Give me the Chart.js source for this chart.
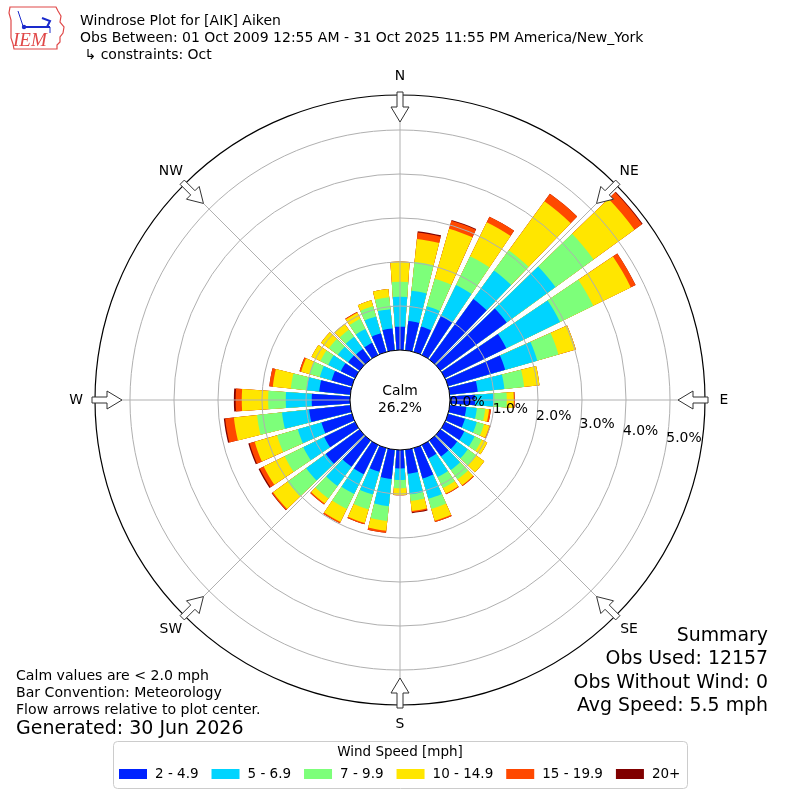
<!DOCTYPE html>
<html>
<head>
<meta charset="utf-8">
<script src="https://cdn.jsdelivr.net/npm/chart.js@4.4.1/dist/chart.umd.min.js"></script>
<style>
  html, body { margin: 0; padding: 0; background: #fff; }
  #wrap { width: 800px; height: 800px; position: relative; }
</style>
</head>
<body>
<div id="wrap"><canvas id="roseChart"></canvas></div>
<script>
  // bar directions, degrees clockwise from north
  var directions = [0, 10, 20, 30, 40, 50, 60, 70, 80, 90, 100, 110,
    120, 130, 140, 150, 160, 170, 180, 190, 200, 210, 220, 230,
    240, 250, 260, 270, 280, 290, 300, 310, 320, 330, 340, 350];

  var speedLabels = ['2 - 4.9', '5 - 6.9', '7 - 9.9', '10 - 14.9', '15 - 19.9', '20+'];
  var speedColors = ['#0022ff', '#00d4ff', '#7dff7a', '#ffe600', '#ff4800', '#800000'];

  // percent of observations in each direction, per speed bin
  var speed2to5 = [0.53, 0.67, 0.60, 0.98, 1.70, 1.86, 1.55, 1.35, 0.64, 0.57, 0.38, 0.40,
    0.49, 0.47, 0.45, 0.34, 0.72, 0.55, 0.42, 0.67, 0.56, 0.74, 0.74, 0.95,
    0.78, 0.72, 0.94, 0.87, 0.71, 0.48, 0.36, 0.32, 0.30, 0.31, 0.44, 0.50];
  var speed5to7 = [0.68, 0.69, 0.48, 0.79, 0.80, 1.37, 1.36, 0.76, 0.61, 0.41, 0.24, 0.28,
    0.26, 0.30, 0.38, 0.47, 0.48, 0.47, 0.26, 0.62, 0.54, 0.50, 0.54, 0.55,
    0.53, 0.56, 0.62, 0.59, 0.29, 0.28, 0.32, 0.29, 0.34, 0.35, 0.40, 0.44];
  var speed7to10 = [0.34, 0.66, 0.65, 0.73, 0.57, 1.07, 0.84, 0.50, 0.45, 0.31, 0.19, 0.17,
    0.18, 0.24, 0.26, 0.28, 0.24, 0.15, 0.19, 0.34, 0.35, 0.38, 0.35, 0.52,
    0.47, 0.49, 0.57, 0.40, 0.36, 0.24, 0.20, 0.25, 0.20, 0.26, 0.24, 0.27];
  var speed10to15 = [0.46, 0.52, 1.18, 0.86, 1.38, 1.15, 0.95, 0.41, 0.35, 0.16, 0.09, 0.13,
    0.14, 0.22, 0.17, 0.14, 0.28, 0.23, 0.15, 0.22, 0.32, 0.33, 0.14, 0.41,
    0.53, 0.53, 0.53, 0.60, 0.41, 0.20, 0.22, 0.22, 0.16, 0.15, 0.14, 0.19];
  var speed15to20 = [0, 0.15, 0.19, 0.14, 0.21, 0.21, 0.12, 0, 0, 0.02, 0.04, 0.02,
    0, 0, 0.02, 0.02, 0.03, 0.03, 0.01, 0.05, 0.03, 0.03, 0.03, 0.03,
    0.10, 0.12, 0.20, 0.14, 0.08, 0.04, 0, 0, 0, 0.02, 0, 0];
  var speed20plus = [0, 0.03, 0.02, 0, 0, 0.02, 0, 0, 0, 0, 0, 0,
    0, 0, 0, 0, 0, 0.02, 0, 0, 0, 0, 0, 0.01,
    0.03, 0.03, 0.03, 0.04, 0, 0, 0, 0, 0, 0, 0, 0];

  var ringTicks = [0, 1, 2, 3, 4, 5];
  var compassLabels = ['N', 'NE', 'E', 'SE', 'S', 'SW', 'W', 'NW'];
  var calmPercent = 26.2;

  var titleLines = ['Windrose Plot for [AIK] Aiken',
    'Obs Between: 01 Oct 2009 12:55 AM - 31 Oct 2025 11:55 PM America/New_York',
    ' \u21b3 constraints: Oct'];
  var noteLines = ['Calm values are < 2.0 mph', 'Bar Convention: Meteorology',
    'Flow arrows relative to plot center.'];
  var generatedText = 'Generated: 30 Jun 2026';
  var summaryLines = ['Summary', 'Obs Used: 12157', 'Obs Without Wind: 0', 'Avg Speed: 5.5 mph'];

  var rMin = -1.136;
  var rMax = 5.795;
  var FONT = '"DejaVu Sans", sans-serif';

  // stack the bins: each dataset holds the running total, drawn smallest on top
  var bins = [speed2to5, speed5to7, speed7to10, speed10to15, speed15to20, speed20plus];
  var labels = [];
  directions.forEach(function (d) { labels.push(d + '\u00b0'); labels.push(''); });
  var running = directions.map(function () { return 0; });
  var datasets = bins.map(function (bin, k) {
    running = running.map(function (v, i) { return v + bin[i]; });
    var data = [];
    running.forEach(function (v) { data.push(+v.toFixed(3)); data.push(0); });
    return {
      label: speedLabels[k],
      data: data,
      backgroundColor: speedColors[k],
      borderWidth: 0,
      angle: function (ctx) { return ctx.dataIndex % 2 === 0 ? 8 : 2; }
    };
  });

  function polar(scale, deg, dist) {
    var t = (deg - 90) * Math.PI / 180;
    return { x: scale.xCenter + Math.cos(t) * dist, y: scale.yCenter + Math.sin(t) * dist };
  }

  function drawArrow(ctx, scale, deg, outer) {
    var pts = [[outer + 3, -3], [outer - 12, -3], [outer - 12, -9], [outer - 27, 0],
      [outer - 12, 9], [outer - 12, 3], [outer + 3, 3]];
    var t = (deg - 90) * Math.PI / 180;
    var ux = Math.cos(t), uy = Math.sin(t), px = -uy, py = ux;
    ctx.beginPath();
    pts.forEach(function (p, i) {
      var x = scale.xCenter + ux * p[0] + px * p[1];
      var y = scale.yCenter + uy * p[0] + py * p[1];
      if (i === 0) ctx.moveTo(x, y); else ctx.lineTo(x, y);
    });
    ctx.closePath();
    ctx.fillStyle = '#ffffff';
    ctx.fill();
    ctx.strokeStyle = '#333333';
    ctx.lineWidth = 1;
    ctx.stroke();
  }

  function drawLogo(ctx) {
    ctx.save();
    ctx.strokeStyle = '#e04848';
    ctx.lineWidth = 1.2;
    ctx.beginPath();
    var outline = [[10, 7], [56, 7], [58, 11], [61, 16], [60, 22], [64, 27], [63, 33], [60, 37],
      [60, 42], [57, 45], [57, 49], [14, 49], [13, 44], [11, 38], [11, 20], [9, 13]];
    outline.forEach(function (p, i) { if (i === 0) ctx.moveTo(p[0], p[1]); else ctx.lineTo(p[0], p[1]); });
    ctx.closePath();
    ctx.stroke();
    ctx.strokeStyle = '#1a2acc';
    ctx.fillStyle = '#1a2acc';
    ctx.lineWidth = 1;
    ctx.beginPath(); ctx.moveTo(18, 11); ctx.lineTo(23, 26); ctx.stroke();
    ctx.lineWidth = 2;
    ctx.beginPath(); ctx.moveTo(23, 27); ctx.lineTo(50, 27); ctx.stroke();
    ctx.beginPath(); ctx.moveTo(42, 18); ctx.lineTo(50, 21); ctx.lineTo(47, 27); ctx.stroke();
    ctx.lineWidth = 1;
    ctx.beginPath(); ctx.moveTo(50, 27); ctx.lineTo(50, 33); ctx.stroke();
    ctx.beginPath(); ctx.arc(24, 27, 2.2, 0, Math.PI * 2); ctx.fill();
    ctx.fillStyle = '#e04848';
    ctx.font = 'italic 19px "Liberation Serif", serif';
    ctx.textAlign = 'left';
    ctx.textBaseline = 'alphabetic';
    ctx.fillText('IEM', 13, 46);
    ctx.restore();
  }

  var roseDecor = {
    id: 'roseDecor',
    beforeDraw: function (chart) {
      var ctx = chart.ctx;
      ctx.save();
      ctx.fillStyle = '#ffffff';
      ctx.fillRect(0, 0, chart.width, chart.height);
      ctx.restore();
    },
    afterDatasetsDraw: function (chart) {
      var ctx = chart.ctx, scale = chart.scales.r;
      var inner = scale.getDistanceFromCenterForValue(0);
      var outer = scale.getDistanceFromCenterForValue(scale.max);
      ctx.save();
      ctx.strokeStyle = '#b0b0b0';
      ctx.lineWidth = 1;
      for (var a = 0; a < 360; a += 45) {
        var p0 = polar(scale, a, inner), p1 = polar(scale, a, outer);
        ctx.beginPath(); ctx.moveTo(p0.x, p0.y); ctx.lineTo(p1.x, p1.y); ctx.stroke();
      }
      ctx.beginPath();
      ctx.arc(scale.xCenter, scale.yCenter, inner, 0, Math.PI * 2);
      ctx.fillStyle = '#ffffff';
      ctx.fill();
      ctx.fillStyle = '#000000';
      ctx.font = '13.9px ' + FONT;
      ctx.textAlign = 'center';
      ctx.textBaseline = 'middle';
      ctx.fillText('Calm', scale.xCenter, scale.yCenter - 9);
      ctx.fillText(calmPercent.toFixed(1) + '%', scale.xCenter, scale.yCenter + 8);
      ctx.restore();
    },
    afterDraw: function (chart) {
      var ctx = chart.ctx, scale = chart.scales.r;
      var outer = scale.getDistanceFromCenterForValue(scale.max);
      ctx.save();
      // compass arrows and labels
      compassLabels.forEach(function (lab, i) {
        var deg = i * 45;
        drawArrow(ctx, scale, deg, outer);
        var p = polar(scale, deg, outer + 19);
        ctx.fillStyle = '#000000';
        ctx.font = '13.9px ' + FONT;
        ctx.textAlign = 'center';
        ctx.textBaseline = 'middle';
        ctx.fillText(lab, p.x, p.y);
      });
      // ring labels
      ctx.textAlign = 'left';
      ringTicks.forEach(function (v) {
        var p = polar(scale, 99.5, scale.getDistanceFromCenterForValue(v));
        ctx.fillText(v.toFixed(1) + '%', p.x, p.y - 6);
      });
      // header
      drawLogo(ctx);
      ctx.fillStyle = '#000000';
      ctx.font = '14px ' + FONT;
      ctx.textAlign = 'left';
      ctx.textBaseline = 'middle';
      titleLines.forEach(function (t, i) { ctx.fillText(t, 80, 21 + i * 17); });
      // notes
      ctx.font = '14.1px ' + FONT;
      noteLines.forEach(function (t, i) { ctx.fillText(t, 16, 676 + i * 17); });
      ctx.font = '19px ' + FONT;
      ctx.fillText(generatedText, 16, 729);
      // summary
      ctx.font = '18.9px ' + FONT;
      ctx.textAlign = 'right';
      summaryLines.forEach(function (t, i) { ctx.fillText(t, 768, 636 + i * 23.4); });
      // legend
      ctx.beginPath();
      ctx.roundRect(113.5, 741.5, 574, 47, 4);
      ctx.fillStyle = '#ffffff';
      ctx.fill();
      ctx.strokeStyle = '#cccccc';
      ctx.lineWidth = 1;
      ctx.stroke();
      ctx.fillStyle = '#000000';
      ctx.font = '13.5px ' + FONT;
      ctx.textAlign = 'center';
      ctx.fillText('Wind Speed [mph]', 400, 752);
      ctx.textAlign = 'left';
      var x = 119;
      chart.data.datasets.forEach(function (ds) {
        ctx.fillStyle = ds.backgroundColor;
        ctx.fillRect(x, 769, 28, 10);
        ctx.fillStyle = '#000000';
        ctx.fillText(ds.label, x + 36, 774.5);
        x += 36 + ctx.measureText(ds.label).width + 13;
      });
      ctx.restore();
    }
  };

  var ctxR = document.getElementById('roseChart').getContext('2d');
  var roseChart = new Chart(ctxR, {
    type: 'polarArea',
    data: { labels: labels, datasets: datasets },
    options: {
      responsive: true,
      maintainAspectRatio: false,
      animation: false,
      events: [],
      layout: { padding: 95 },
      plugins: { legend: { display: false }, tooltip: { enabled: false } },
      scales: {
        r: {
          min: rMin,
          max: rMax,
          beginAtZero: false,
          startAngle: -4,
          angleLines: { display: false },
          pointLabels: { display: false },
          ticks: { display: false },
          afterBuildTicks: function (scale) {
            scale.ticks = ringTicks.concat([rMax]).map(function (v) { return { value: v }; });
          },
          grid: {
            z: 1,
            circular: true,
            color: function (c) {
              var v = c.tick ? c.tick.value : null;
              return (v === 0 || v === rMax) ? '#000000' : '#b0b0b0';
            },
            lineWidth: function (c) {
              var v = c.tick ? c.tick.value : null;
              return v === rMax ? 1.2 : 1;
            }
          }
        }
      }
    },
    plugins: [roseDecor]
  });
</script>
</body>
</html>
